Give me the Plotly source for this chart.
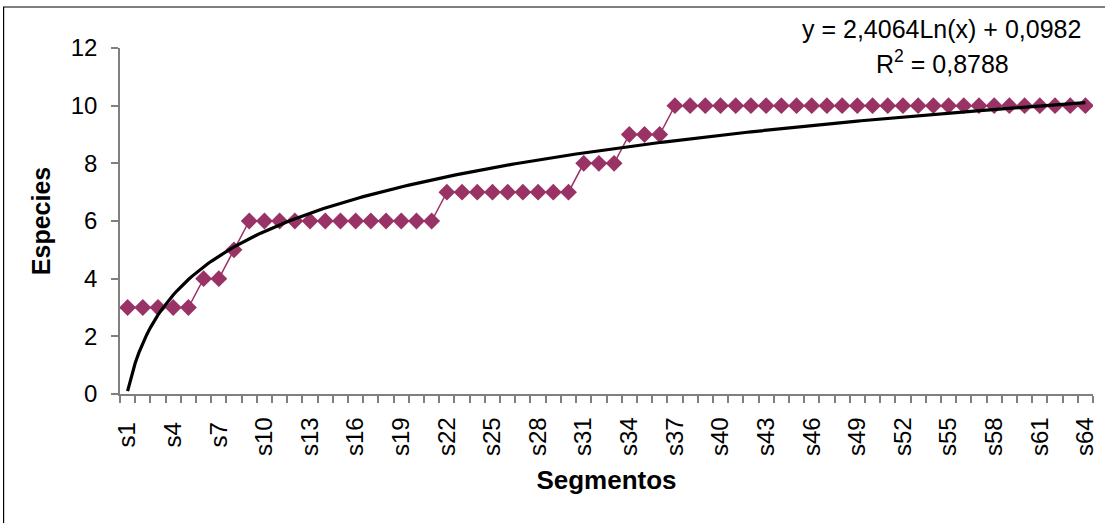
import numpy as np
import plotly.graph_objects as go

categories = [f"s{i}" for i in range(1, 65)]
especies = [3, 3, 3, 3, 3, 4, 4, 5] + [6] * 13 + [7] * 9 + [8] * 3 + [9] * 3 + [10] * 28
trend_a = 2.4064
trend_b = 0.0982
r2_text = "0,8788"

xpos = list(range(1, len(categories) + 1))
# the trendline is the printed logarithmic fit, drawn as a smooth curve
trend_x = np.linspace(1, len(categories), 4 * (len(categories) - 1) + 1)
trend_y = trend_a * np.log(trend_x) + trend_b

fig = go.Figure()
fig.add_trace(go.Scatter(
    x=xpos, y=especies, mode="lines+markers",
    line=dict(color="#993366", width=1.5),
    marker=dict(symbol="diamond", size=13, color="#993366"),
    showlegend=False, hoverinfo="x+y"))
fig.add_trace(go.Scatter(
    x=trend_x, y=trend_y, mode="lines",
    line=dict(color="black", width=3.2),
    showlegend=False))

tickvals = xpos[::3]
# short labels get a trailing thin space so that they sit a little lower, like the reference
ticktext = [c if len(c) >= 3 else c + "\u2009" for c in categories[::3]]

fig.update_layout(
    width=1105, height=523,
    margin=dict(l=120, r=7, t=48, b=129),
    paper_bgcolor="white", plot_bgcolor="white",
    font=dict(family="Arial, 'Liberation Sans', sans-serif", size=24, color="black"),
    xaxis=dict(
        range=[0.5, 64.5], tickmode="array", tickvals=tickvals, ticktext=ticktext,
        tickangle=-90, ticks="", showgrid=False, zeroline=False,
        showline=True, linecolor="#808080", linewidth=1.5,
        tickfont=dict(size=24),
        ticklabelstandoff=12,
        minor=dict(tickmode="linear", tick0=0.5, dtick=1, ticks="outside",
                   ticklen=7, tickcolor="#808080", tickwidth=1.5, showgrid=False),
        title=dict(text="<b>Segmentos</b>", font=dict(size=26), standoff=16),
    ),
    yaxis=dict(
        range=[0, 12], tickmode="linear", tick0=0, dtick=2,
        ticks="outside", ticklen=7, tickcolor="#808080", tickwidth=1.5,
        showgrid=False, zeroline=False, showline=True, linecolor="#808080", linewidth=1.5,
        tickfont=dict(size=24),
        ticklabelstandoff=9,
        title=dict(text="<b>Especies</b>", font=dict(size=25), standoff=13),
    ),
)

fig.add_annotation(
    xref="paper", yref="paper", x=(946 - 120) / 978, y=(394 - 29) / 346,
    text=f"y = {str(trend_a).replace('.', ',')}Ln(x) + {str(trend_b).replace('.', ',')}",
    showarrow=False, font=dict(size=25), xanchor="center", yanchor="middle")
fig.add_annotation(
    xref="paper", yref="paper", x=(947 - 120) / 978, y=(394 - 62) / 346,
    text=f"R<sup>2</sup> = {r2_text}",
    showarrow=False, font=dict(size=25), xanchor="center", yanchor="middle")

fig.add_shape(type="rect", xref="paper", yref="paper",
              x0=(3 - 120) / 978, x1=(1115 - 120) / 978,
              y0=(394 - 535) / 346, y1=(394 - 7) / 346,
              line=dict(color="black", width=1.2), layer="below")

fig.write_html("out.html", config={"displayModeBar": False},
               post_script="document.body.style.margin='0';document.body.style.padding='0';")
